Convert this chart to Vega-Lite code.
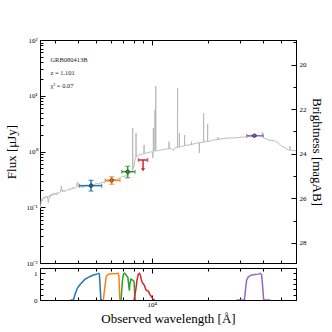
{
  "$schema": "https://vega.github.io/schema/vega-lite/v6.json",
  "padding": {"left": 5, "top": 35, "right": 6, "bottom": 5},
  "background": "white",
  "config": {
    "font": "Liberation Serif",
    "view": {"stroke": "black", "strokeWidth": 1},
    "concat": {"spacing": 0},
    "axis": {"domainColor": "black", "tickColor": "black", "labelColor": "black", "titleColor": "black", "grid": false, "labelFontSize": 7, "titleFontWeight": "normal", "titleFontSize": 13, "labelFont": "Liberation Serif", "titleFont": "Liberation Serif"}
  },
  "datasets": {
    "spectrum": [
      {"lam": 2512, "flux": 0.0969}, {"lam": 2543, "flux": 0.1406}, {"lam": 2575, "flux": 0.1295}, {"lam": 2607, "flux": 0.1527},
      {"lam": 2640, "flux": 0.1406}, {"lam": 2673, "flux": 0.1591}, {"lam": 2706, "flux": 0.1465}, {"lam": 2740, "flux": 0.1591},
      {"lam": 2774, "flux": 0.1192}, {"lam": 2809, "flux": 0.1659}, {"lam": 2844, "flux": 0.1527}, {"lam": 2879, "flux": 0.1728},
      {"lam": 2915, "flux": 0.1591}, {"lam": 2951, "flux": 0.1801}, {"lam": 2988, "flux": 0.1659}, {"lam": 3025, "flux": 0.1801},
      {"lam": 3063, "flux": 0.1659}, {"lam": 3101, "flux": 0.1877}, {"lam": 3140, "flux": 0.1728}, {"lam": 3219, "flux": 0.1877},
      {"lam": 3259, "flux": 0.2405}, {"lam": 3300, "flux": 0.1877}, {"lam": 3341, "flux": 0.2039}, {"lam": 3383, "flux": 0.1877},
      {"lam": 3425, "flux": 0.2039}, {"lam": 3469, "flux": 0.1956}, {"lam": 3556, "flux": 0.2125}, {"lam": 3645, "flux": 0.2039},
      {"lam": 3691, "flux": 0.2214}, {"lam": 3736, "flux": 0.2125}, {"lam": 3784, "flux": 0.2308}, {"lam": 3831, "flux": 0.2125},
      {"lam": 3879, "flux": 0.2214}, {"lam": 3928, "flux": 0.2308}, {"lam": 3977, "flux": 0.2837}, {"lam": 4026, "flux": 0.2308},
      {"lam": 4128, "flux": 0.2405}, {"lam": 4230, "flux": 0.2214}, {"lam": 4283, "flux": 0.2405}, {"lam": 4337, "flux": 0.2308},
      {"lam": 4446, "flux": 0.2506}, {"lam": 4558, "flux": 0.2405}, {"lam": 4673, "flux": 0.2506}, {"lam": 4790, "flux": 0.2612},
      {"lam": 4911, "flux": 0.2506}, {"lam": 5034, "flux": 0.2722}, {"lam": 5161, "flux": 0.2612}, {"lam": 5290, "flux": 0.2722},
      {"lam": 5424, "flux": 0.2837}, {"lam": 5559, "flux": 0.2722}, {"lam": 5699, "flux": 0.2957}, {"lam": 5843, "flux": 0.2837},
      {"lam": 5989, "flux": 0.3081}, {"lam": 6140, "flux": 0.2957}, {"lam": 6294, "flux": 0.3211}, {"lam": 6451, "flux": 0.3081},
      {"lam": 6614, "flux": 0.3346}, {"lam": 6780, "flux": 0.3346}, {"lam": 6951, "flux": 0.3634}, {"lam": 7126, "flux": 0.3487},
      {"lam": 7305, "flux": 0.3788}, {"lam": 7488, "flux": 0.3788}, {"lam": 7677, "flux": 0.4114}, {"lam": 7773, "flux": 0.4287},
      {"lam": 7880, "flux": 0.4657}, {"lam": 7900, "flux": 2.64}, {"lam": 7920, "flux": 0.48},
      {"lam": 7966, "flux": 0.5058}, {"lam": 8066, "flux": 0.5727}, {"lam": 8116, "flux": 0.7039}, {"lam": 8166, "flux": 0.7646},
      {"lam": 8225, "flux": 0.78}, {"lam": 8237, "flux": 2.147}, {"lam": 8250, "flux": 0.79},
      {"lam": 8371, "flux": 0.8304}, {"lam": 8477, "flux": 0.8654}, {"lam": 8693, "flux": 0.8654}, {"lam": 8912, "flux": 0.902},
      {"lam": 9090, "flux": 0.91}, {"lam": 9100, "flux": 1.308}, {"lam": 9110, "flux": 0.91},
      {"lam": 9132, "flux": 0.902}, {"lam": 9363, "flux": 0.9399}, {"lam": 9598, "flux": 0.9595}, {"lam": 9840, "flux": 0.9795},
      {"lam": 10130, "flux": 0.98}, {"lam": 10150, "flux": 0.7646}, {"lam": 10170, "flux": 0.99},
      {"lam": 10200, "flux": 1.0}, {"lam": 10213, "flux": 2.64}, {"lam": 10226, "flux": 1.0},
      {"lam": 10342, "flux": 1.021},
      {"lam": 10405, "flux": 1.02}, {"lam": 10419, "flux": 5.552}, {"lam": 10433, "flux": 1.02},
      {"lam": 10505, "flux": 1.03}, {"lam": 10520, "flux": 14.96}, {"lam": 10535, "flux": 1.03},
      {"lam": 10600, "flux": 1.021}, {"lam": 10867, "flux": 1.042}, {"lam": 11281, "flux": 1.064}, {"lam": 11566, "flux": 1.086},
      {"lam": 12003, "flux": 1.109},
      {"lam": 12380, "flux": 1.11}, {"lam": 12400, "flux": 1.499}, {"lam": 12420, "flux": 1.11},
      {"lam": 12770, "flux": 1.132}, {"lam": 13092, "flux": 1.042}, {"lam": 13420, "flux": 1.18},
      {"lam": 13770, "flux": 1.19}, {"lam": 13789, "flux": 13.77}, {"lam": 13808, "flux": 1.19},
      {"lam": 14090, "flux": 1.2}, {"lam": 14110, "flux": 2.147}, {"lam": 14130, "flux": 1.2},
      {"lam": 14460, "flux": 1.229}, {"lam": 14824, "flux": 1.255},
      {"lam": 15030, "flux": 1.26}, {"lam": 15050, "flux": 1.977}, {"lam": 15070, "flux": 1.26},
      {"lam": 15196, "flux": 1.281}, {"lam": 15765, "flux": 1.308},
      {"lam": 16380, "flux": 1.335}, {"lam": 16400, "flux": 1.499}, {"lam": 16420, "flux": 1.335},
      {"lam": 16780, "flux": 1.363}, {"lam": 17203, "flux": 1.392}, {"lam": 17636, "flux": 1.42},
      {"lam": 18050, "flux": 1.43}, {"lam": 18076, "flux": 0.9399}, {"lam": 18100, "flux": 1.44},
      {"lam": 18532, "flux": 1.45},
      {"lam": 19030, "flux": 1.47}, {"lam": 19055, "flux": 4.905}, {"lam": 19080, "flux": 1.47},
      {"lam": 19720, "flux": 1.511},
      {"lam": 20005, "flux": 1.52}, {"lam": 20030, "flux": 3.114}, {"lam": 20055, "flux": 1.52},
      {"lam": 20723, "flux": 1.543}, {"lam": 21510, "flux": 1.608},
      {"lam": 22720, "flux": 1.64}, {"lam": 22750, "flux": 1.82}, {"lam": 22780, "flux": 1.64},
      {"lam": 24354, "flux": 1.711}, {"lam": 25916, "flux": 1.746}, {"lam": 27567, "flux": 1.746}, {"lam": 29337, "flux": 1.783},
      {"lam": 31208, "flux": 1.82}, {"lam": 32391, "flux": 1.82}, {"lam": 34045, "flux": 1.858}, {"lam": 35772, "flux": 1.92},
      {"lam": 37614, "flux": 1.936}, {"lam": 38546, "flux": 1.897},
      {"lam": 39500, "flux": 1.88}, {"lam": 39550, "flux": 2.237}, {"lam": 39600, "flux": 1.87},
      {"lam": 40514, "flux": 1.746}, {"lam": 42571, "flux": 1.608}, {"lam": 44190, "flux": 1.575}, {"lam": 45868, "flux": 1.562},
      {"lam": 48195, "flux": 1.42}, {"lam": 50030, "flux": 1.255}, {"lam": 52580, "flux": 1.155}, {"lam": 54580, "flux": 1.064},
      {"lam": 55650, "flux": 1.06}, {"lam": 55700, "flux": 1.255}, {"lam": 55750, "flux": 1.06},
      {"lam": 55950, "flux": 1.064}, {"lam": 58060, "flux": 1.042}, {"lam": 61770, "flux": 1.021}
    ],
    "phot": [
      {"band": "g", "lam": 4710, "lamlo": 4076, "lamhi": 5377, "flux": 0.244, "flo": 0.195, "fhi": 0.304},
      {"band": "r", "lam": 6087, "lamlo": 5609, "lamhi": 6755, "flux": 0.304, "flo": 0.258, "fhi": 0.353},
      {"band": "i", "lam": 7424, "lamlo": 6893, "lamhi": 8137, "flux": 0.434, "flo": 0.339, "fhi": 0.542},
      {"band": "IRAC", "lam": 35780, "lamlo": 32520, "lamhi": 40000, "flux": 1.92, "flo": 1.87, "fhi": 1.97}
    ],
    "uplim": [
      {"band": "z", "lam": 8987, "lamlo": 8479, "lamhi": 9515, "flux": 0.704, "fend": 0.47}
    ],
    "labels": [
      {"lam": 2845, "flux": 43.8, "text": "GRB080413B"},
      {"lam": 2845, "flux": 25.6, "text": "z = 1.101"},
      {"lam": 2845, "flux": 14.96, "text": "χ² = 0.07"}
    ],
    "mag": [{"lam": 10000, "mag": 20}],
    "filters": [
      {"band": "g", "lam": 3650, "T": 0}, {"band": "g", "lam": 3784, "T": 0}, {"band": "g", "lam": 3879, "T": 0.25},
      {"band": "g", "lam": 3977, "T": 0.45}, {"band": "g", "lam": 4112, "T": 0.58}, {"band": "g", "lam": 4375, "T": 0.78},
      {"band": "g", "lam": 4558, "T": 0.85}, {"band": "g", "lam": 4748, "T": 0.91}, {"band": "g", "lam": 4911, "T": 0.95},
      {"band": "g", "lam": 5097, "T": 0.98}, {"band": "g", "lam": 5194, "T": 1.0}, {"band": "g", "lam": 5226, "T": 0.97},
      {"band": "g", "lam": 5323, "T": 0}, {"band": "g", "lam": 5420, "T": 0},
      {"band": "r", "lam": 5400, "T": 0}, {"band": "r", "lam": 5490, "T": 0}, {"band": "r", "lam": 5595, "T": 0.5},
      {"band": "r", "lam": 5699, "T": 0.9}, {"band": "r", "lam": 5843, "T": 0.97}, {"band": "r", "lam": 6140, "T": 0.98},
      {"band": "r", "lam": 6451, "T": 0.99}, {"band": "r", "lam": 6580, "T": 1.0}, {"band": "r", "lam": 6658, "T": 0.9},
      {"band": "r", "lam": 6741, "T": 0}, {"band": "r", "lam": 6800, "T": 0},
      {"band": "i", "lam": 6780, "T": 0}, {"band": "i", "lam": 6839, "T": 0}, {"band": "i", "lam": 6951, "T": 0.7},
      {"band": "i", "lam": 7038, "T": 0.97}, {"band": "i", "lam": 7126, "T": 1.0}, {"band": "i", "lam": 7215, "T": 0.97},
      {"band": "i", "lam": 7332, "T": 0.9}, {"band": "i", "lam": 7441, "T": 0.85}, {"band": "i", "lam": 7535, "T": 0.5},
      {"band": "i", "lam": 7582, "T": 0.35}, {"band": "i", "lam": 7630, "T": 0.6}, {"band": "i", "lam": 7725, "T": 0.78},
      {"band": "i", "lam": 7870, "T": 0.75}, {"band": "i", "lam": 7966, "T": 0.72}, {"band": "i", "lam": 8036, "T": 0.7},
      {"band": "i", "lam": 8116, "T": 0.1}, {"band": "i", "lam": 8166, "T": 0},
      {"band": "z", "lam": 7966, "T": 0}, {"band": "z", "lam": 8036, "T": 0}, {"band": "z", "lam": 8217, "T": 0.4},
      {"band": "z", "lam": 8340, "T": 0.75}, {"band": "z", "lam": 8477, "T": 0.97}, {"band": "z", "lam": 8585, "T": 1.0},
      {"band": "z", "lam": 8693, "T": 0.93}, {"band": "z", "lam": 8801, "T": 0.75}, {"band": "z", "lam": 8912, "T": 0.65},
      {"band": "z", "lam": 9024, "T": 0.6}, {"band": "z", "lam": 9132, "T": 0.55}, {"band": "z", "lam": 9283, "T": 0.4},
      {"band": "z", "lam": 9421, "T": 0.35}, {"band": "z", "lam": 9598, "T": 0.33}, {"band": "z", "lam": 9779, "T": 0.2},
      {"band": "z", "lam": 9926, "T": 0.15}, {"band": "z", "lam": 10087, "T": 0.07}, {"band": "z", "lam": 10214, "T": 0.02},
      {"band": "z", "lam": 10406, "T": 0},
      {"band": "IRAC", "lam": 28720, "T": 0}, {"band": "IRAC", "lam": 31600, "T": 0}, {"band": "IRAC", "lam": 32200, "T": 0.5},
      {"band": "IRAC", "lam": 32520, "T": 0.75}, {"band": "IRAC", "lam": 33210, "T": 0.87}, {"band": "IRAC", "lam": 34600, "T": 0.94},
      {"band": "IRAC", "lam": 36100, "T": 0.96}, {"band": "IRAC", "lam": 37600, "T": 0.97}, {"band": "IRAC", "lam": 38400, "T": 1.0},
      {"band": "IRAC", "lam": 39170, "T": 0.94}, {"band": "IRAC", "lam": 39660, "T": 0.5}, {"band": "IRAC", "lam": 40160, "T": 0},
      {"band": "IRAC", "lam": 43480, "T": 0}
    ]
  },
  "vconcat": [
    {
      "width": 256,
      "height": 223,
      "layer": [
        {
          "data": {"name": "spectrum"},
          "mark": {"type": "line", "color": "#bababa", "strokeWidth": 1, "clip": true},
          "encoding": {
            "x": {"field": "lam", "type": "quantitative", "scale": {"type": "log", "domain": [2500, 60000], "nice": false},
              "axis": {"orient": "bottom", "labels": false, "title": null, "values": [3000, 4000, 5000, 6000, 7000, 8000, 9000, 10000, 20000, 30000, 40000, 50000],
                "tickSize": {"condition": {"test": "datum.value == 10000", "value": -5}, "value": -3}}},
            "y": {"field": "flux", "type": "quantitative", "scale": {"type": "log", "domain": [0.01, 100], "nice": false},
              "axis": {"orient": "left", "title": "Flux [μJy]", "titlePadding": 7,
                "values": [0.01, 0.02, 0.03, 0.04, 0.05, 0.06, 0.07, 0.08, 0.09, 0.1, 0.2, 0.3, 0.4, 0.5, 0.6, 0.7, 0.8, 0.9, 1, 2, 3, 4, 5, 6, 7, 8, 9, 10, 20, 30, 40, 50, 60, 70, 80, 90, 100],
                "labelExpr": "datum.value == 0.01 ? '10⁻²' : datum.value == 0.1 ? '10⁻¹' : datum.value == 1 ? '10⁰' : datum.value == 10 ? '10¹' : datum.value == 100 ? '10²' : ''",
                "labelOverlap": false, "labelPadding": 8,
                "tickSize": {"condition": {"test": "indexof([0.01,0.1,1,10,100], datum.value) >= 0", "value": -5}, "value": -3}}}
          }
        },
        {
          "data": {"name": "phot"},
          "mark": {"type": "rule", "strokeWidth": 1.5},
          "encoding": {
            "x": {"field": "lamlo", "type": "quantitative", "axis": null},
            "x2": {"field": "lamhi"},
            "y": {"field": "flux", "type": "quantitative", "scale": {"type": "log", "domain": [0.01, 100], "nice": false}, "axis": null},
            "color": {"field": "band", "type": "nominal", "scale": {"domain": ["g", "r", "i", "z", "IRAC"], "range": ["#1f77b4", "#ff7f0e", "#2ca02c", "#d62728", "#9467bd"]}, "legend": null}
          }
        },
        {
          "data": {"name": "phot"},
          "mark": {"type": "rule", "strokeWidth": 1.5},
          "encoding": {
            "x": {"field": "lam", "type": "quantitative", "axis": null},
            "y": {"field": "flo", "type": "quantitative", "scale": {"type": "log", "domain": [0.01, 100], "nice": false}, "axis": null},
            "y2": {"field": "fhi"},
            "color": {"field": "band", "type": "nominal", "legend": null}
          }
        },
        {
          "data": {"name": "phot"},
          "mark": {"type": "tick", "orient": "horizontal", "size": 5, "thickness": 1.3},
          "encoding": {
            "x": {"field": "lam", "type": "quantitative", "axis": null},
            "y": {"field": "fhi", "type": "quantitative", "scale": {"type": "log", "domain": [0.01, 100], "nice": false}, "axis": null},
            "color": {"field": "band", "type": "nominal", "legend": null}
          }
        },
        {
          "data": {"name": "phot"},
          "mark": {"type": "tick", "orient": "horizontal", "size": 5, "thickness": 1.3},
          "encoding": {
            "x": {"field": "lam", "type": "quantitative", "axis": null},
            "y": {"field": "flo", "type": "quantitative", "scale": {"type": "log", "domain": [0.01, 100], "nice": false}, "axis": null},
            "color": {"field": "band", "type": "nominal", "legend": null}
          }
        },
        {
          "data": {"name": "phot"},
          "mark": {"type": "tick", "orient": "vertical", "size": 4, "thickness": 1.3},
          "encoding": {
            "x": {"field": "lamlo", "type": "quantitative", "axis": null},
            "y": {"field": "flux", "type": "quantitative", "scale": {"type": "log", "domain": [0.01, 100], "nice": false}, "axis": null},
            "color": {"field": "band", "type": "nominal", "legend": null}
          }
        },
        {
          "data": {"name": "phot"},
          "mark": {"type": "tick", "orient": "vertical", "size": 4, "thickness": 1.3},
          "encoding": {
            "x": {"field": "lamhi", "type": "quantitative", "axis": null},
            "y": {"field": "flux", "type": "quantitative", "scale": {"type": "log", "domain": [0.01, 100], "nice": false}, "axis": null},
            "color": {"field": "band", "type": "nominal", "legend": null}
          }
        },
        {
          "data": {"name": "phot"},
          "mark": {"type": "point", "filled": true, "size": 12, "opacity": 1, "stroke": "#222222", "strokeWidth": 0.8},
          "encoding": {
            "x": {"field": "lam", "type": "quantitative", "axis": null},
            "y": {"field": "flux", "type": "quantitative", "scale": {"type": "log", "domain": [0.01, 100], "nice": false}, "axis": null},
            "color": {"field": "band", "type": "nominal", "legend": null}
          }
        },
        {
          "data": {"name": "uplim"},
          "mark": {"type": "rule", "strokeWidth": 1.5},
          "encoding": {
            "x": {"field": "lamlo", "type": "quantitative", "axis": null},
            "x2": {"field": "lamhi"},
            "y": {"field": "flux", "type": "quantitative", "scale": {"type": "log", "domain": [0.01, 100], "nice": false}, "axis": null},
            "color": {"field": "band", "type": "nominal", "legend": null}
          }
        },
        {
          "data": {"name": "uplim"},
          "mark": {"type": "rule", "strokeWidth": 1.5},
          "encoding": {
            "x": {"field": "lam", "type": "quantitative", "axis": null},
            "y": {"field": "fend", "type": "quantitative", "scale": {"type": "log", "domain": [0.01, 100], "nice": false}, "axis": null},
            "y2": {"field": "flux"},
            "color": {"field": "band", "type": "nominal", "legend": null}
          }
        },
        {
          "data": {"name": "uplim"},
          "mark": {"type": "tick", "orient": "vertical", "size": 4, "thickness": 1.3},
          "encoding": {
            "x": {"field": "lamlo", "type": "quantitative", "axis": null},
            "y": {"field": "flux", "type": "quantitative", "scale": {"type": "log", "domain": [0.01, 100], "nice": false}, "axis": null},
            "color": {"field": "band", "type": "nominal", "legend": null}
          }
        },
        {
          "data": {"name": "uplim"},
          "mark": {"type": "tick", "orient": "vertical", "size": 4, "thickness": 1.3},
          "encoding": {
            "x": {"field": "lamhi", "type": "quantitative", "axis": null},
            "y": {"field": "flux", "type": "quantitative", "scale": {"type": "log", "domain": [0.01, 100], "nice": false}, "axis": null},
            "color": {"field": "band", "type": "nominal", "legend": null}
          }
        },
        {
          "data": {"name": "uplim"},
          "mark": {"type": "point", "shape": "triangle-down", "filled": true, "size": 16, "opacity": 1},
          "encoding": {
            "x": {"field": "lam", "type": "quantitative", "axis": null},
            "y": {"field": "fend", "type": "quantitative", "scale": {"type": "log", "domain": [0.01, 100], "nice": false}, "axis": null},
            "color": {"field": "band", "type": "nominal", "legend": null}
          }
        },
        {
          "data": {"name": "labels"},
          "mark": {"type": "text", "align": "left", "baseline": "middle", "fontSize": 6.5, "color": "#222222", "font": "Liberation Serif"},
          "encoding": {
            "x": {"field": "lam", "type": "quantitative", "axis": null},
            "y": {"field": "flux", "type": "quantitative", "scale": {"type": "log", "domain": [0.01, 100], "nice": false}, "axis": null},
            "text": {"field": "text"}
          }
        },
        {
          "data": {"name": "mag"},
          "mark": {"type": "point", "opacity": 0},
          "encoding": {
            "x": {"field": "lam", "type": "quantitative",
              "axis": {"orient": "top", "labels": false, "title": null, "values": [3000, 4000, 5000, 6000, 7000, 8000, 9000, 10000, 20000, 30000, 40000, 50000],
                "tickSize": {"condition": {"test": "datum.value == 10000", "value": -5}, "value": -3}}},
            "y": {"field": "mag", "type": "quantitative", "scale": {"domain": [18.9, 28.9], "reverse": true, "nice": false, "zero": false},
              "axis": {"orient": "right", "title": "Brightness [magAB]", "titlePadding": 3, "labelColor": "black",
                "values": [19, 20, 21, 22, 23, 24, 25, 26, 27, 28],
                "labelExpr": "datum.value % 2 == 0 ? datum.label : ''", "labelOverlap": false, "labelPadding": 8,
                "tickSize": {"condition": {"test": "datum.value % 2 == 0", "value": -5}, "value": -3}}}
          }
        }
      ],
      "resolve": {"scale": {"y": "independent"}, "axis": {"x": "independent", "y": "independent"}}
    },
    {
      "width": 256,
      "height": 32,
      "layer": [
        {
          "data": {"name": "filters"},
          "mark": {"type": "line", "strokeWidth": 1.5, "clip": true},
          "encoding": {
            "x": {"field": "lam", "type": "quantitative", "scale": {"type": "log", "domain": [2500, 60000], "nice": false},
              "axis": {"orient": "bottom", "title": "Observed wavelength [Å]", "titlePadding": 3, "values": [3000, 4000, 5000, 6000, 7000, 8000, 9000, 10000, 20000, 30000, 40000, 50000],
                "labelExpr": "datum.value == 10000 ? '10⁴' : ''", "labelOverlap": false, "labelPadding": 5,
                "tickSize": {"condition": {"test": "datum.value == 10000", "value": -5}, "value": -3}}},
            "y": {"field": "T", "type": "quantitative", "scale": {"domain": [0, 1.2], "nice": false},
              "axis": {"orient": "left", "title": null, "values": [0, 0.2, 0.4, 0.6, 0.8, 1],
                "labelExpr": "datum.value == 0 ? '0' : datum.value == 1 ? '1' : ''", "labelOverlap": false, "labelPadding": 8,
                "tickSize": {"condition": {"test": "datum.value == 0 || datum.value == 1", "value": -5}, "value": -3}}},
            "color": {"field": "band", "type": "nominal", "scale": {"domain": ["g", "r", "i", "z", "IRAC"], "range": ["#1f77b4", "#ff7f0e", "#2ca02c", "#d62728", "#9467bd"]}, "legend": null}
          }
        },
        {
          "data": {"name": "filters"},
          "mark": {"type": "point", "opacity": 0},
          "encoding": {
            "x": {"field": "lam", "type": "quantitative",
              "axis": {"orient": "top", "labels": false, "title": null, "values": [3000, 4000, 5000, 6000, 7000, 8000, 9000, 10000, 20000, 30000, 40000, 50000],
                "tickSize": {"condition": {"test": "datum.value == 10000", "value": -5}, "value": -3}}},
            "y": {"field": "T", "type": "quantitative",
              "axis": {"orient": "right", "labels": false, "title": null, "values": [0, 0.2, 0.4, 0.6, 0.8, 1], "tickSize": -3}}
          }
        }
      ],
      "resolve": {"axis": {"x": "independent", "y": "independent"}}
    }
  ]
}
